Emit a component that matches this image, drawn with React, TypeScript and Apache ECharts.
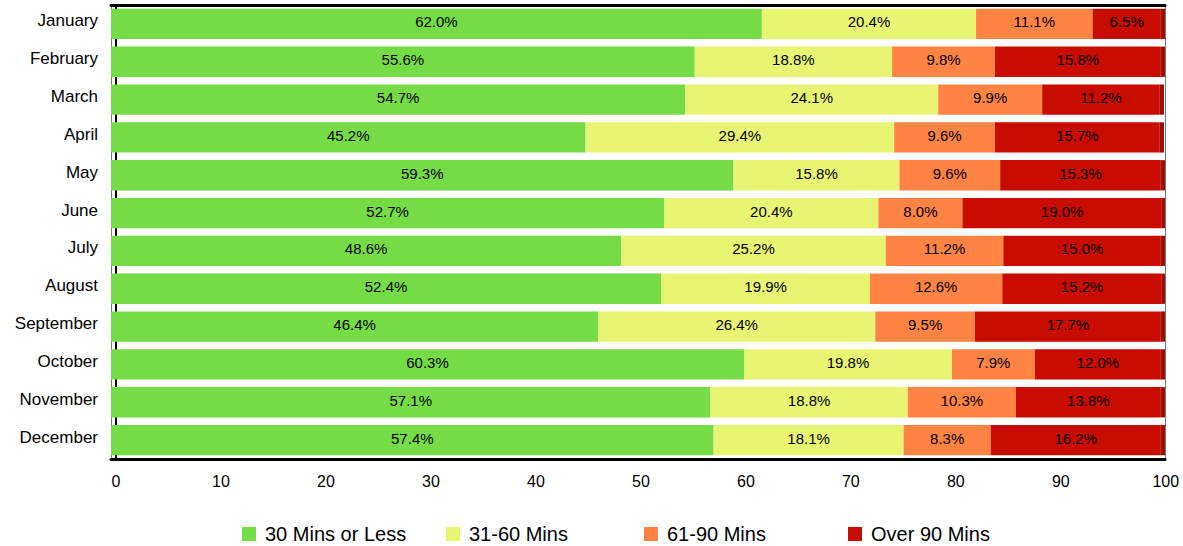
import React, { useEffect, useRef } from "react";
import * as echarts from "echarts";

const months = ["January", "February", "March", "April", "May", "June", "July", "August", "September", "October", "November", "December"];
const seriesNames = ["30 Mins or Less", "31-60 Mins", "61-90 Mins", "Over 90 Mins"];
const mins30 = [62.0, 55.6, 54.7, 45.2, 59.3, 52.7, 48.6, 52.4, 46.4, 60.3, 57.1, 57.4];
const mins60 = [20.4, 18.8, 24.1, 29.4, 15.8, 20.4, 25.2, 19.9, 26.4, 19.8, 18.8, 18.1];
const mins90 = [11.1, 9.8, 9.9, 9.6, 9.6, 8.0, 11.2, 12.6, 9.5, 7.9, 10.3, 8.3];
const over90 = [6.5, 15.8, 11.2, 15.7, 15.3, 19.0, 15.0, 15.2, 17.7, 12.0, 13.8, 16.2];
const edgeStrip = [0.4, 0.4, 0.4, 0.4, 0.4, 0.4, 0.4, 0.4, 0.4, 0.4, 0.4, 0.4];
const colors = ["#76dc45", "#e7f573", "#ff8444", "#c80c00"];
const legendLefts = [237, 441, 639, 843];

export default function App() {
  const ref = useRef<HTMLDivElement>(null);
  useEffect(() => {
    if (!ref.current) return;
    const chart = echarts.init(ref.current, null, { renderer: "svg" });
    const font = "'Liberation Sans', Arial, sans-serif";
    const values = [mins30, mins60, mins90, over90];
    const series: any[] = values.map((d, i) => ({
      name: seriesNames[i],
      type: "bar",
      stack: "total",
      barCategoryGap: "20%",
      data: d,
      z: 3,
      itemStyle: { color: colors[i] },
      label: {
        show: true,
        position: "inside",
        offset: [0, -2],
        color: "#000",
        fontFamily: font,
        fontSize: 15,
        formatter: (p: any) => Number(p.value).toFixed(1) + "%",
      },
    }));
    series.push({
      name: "edge",
      type: "bar",
      stack: "total",
      data: edgeStrip,
      z: 3,
      silent: true,
      itemStyle: { color: "#a00a00" },
    });
    chart.setOption({
      animation: false,
      backgroundColor: "#fff",
      grid: { left: 111, right: 18, top: 5, bottom: 87 },
      legend: legendLefts.map((l, i) => ({
        data: [seriesNames[i]],
        left: l,
        top: 519,
        itemWidth: 14,
        itemHeight: 14,
        icon: "rect",
        selectedMode: false,
        textStyle: { fontFamily: font, fontSize: 20, color: "#000", padding: [0, 0, 2, 4] },
      })),
      xAxis: [
        {
          type: "value",
          min: 0,
          max: 100.4,
          interval: 10,
          position: "bottom",
          splitLine: { show: false },
          axisTick: { show: false },
          axisLine: { show: true, lineStyle: { color: "#000", width: 3 } },
          axisLabel: {
            fontFamily: font,
            fontSize: 16,
            color: "#000",
            margin: 14,
            padding: [0, 0, 0, 10],
            showMaxLabel: false,
          },
        },
        {
          type: "value",
          min: 0,
          max: 100.4,
          position: "top",
          splitLine: { show: false },
          axisTick: { show: false },
          axisLabel: { show: false },
          axisLine: { show: true, lineStyle: { color: "#000", width: 3 } },
        },
      ],
      yAxis: [
        {
          type: "category",
          data: months,
          inverse: true,
          position: "left",
          axisTick: { show: false },
          axisLine: { show: true, lineStyle: { color: "#777", width: 1 } },
          axisLabel: {
            fontFamily: font,
            fontSize: 17,
            color: "#000",
            margin: 13,
            verticalAlign: "bottom",
            lineHeight: 6,
          },
        },
        {
          type: "category",
          data: months,
          inverse: true,
          position: "left",
          offset: -5,
          axisTick: { show: false },
          axisLabel: { show: false },
          axisLine: { show: true, lineStyle: { color: "#000", width: 2 } },
        },
        {
          type: "category",
          data: months,
          inverse: true,
          position: "right",
          axisTick: { show: false },
          axisLabel: { show: false },
          axisLine: { show: true, lineStyle: { color: "#777", width: 1 } },
        },
      ],
      series,
    });
    return () => chart.dispose();
  }, []);
  return <div ref={ref} style={{ width: 1183, height: 546, position: "absolute", left: 0, top: 0 }} />;
}
